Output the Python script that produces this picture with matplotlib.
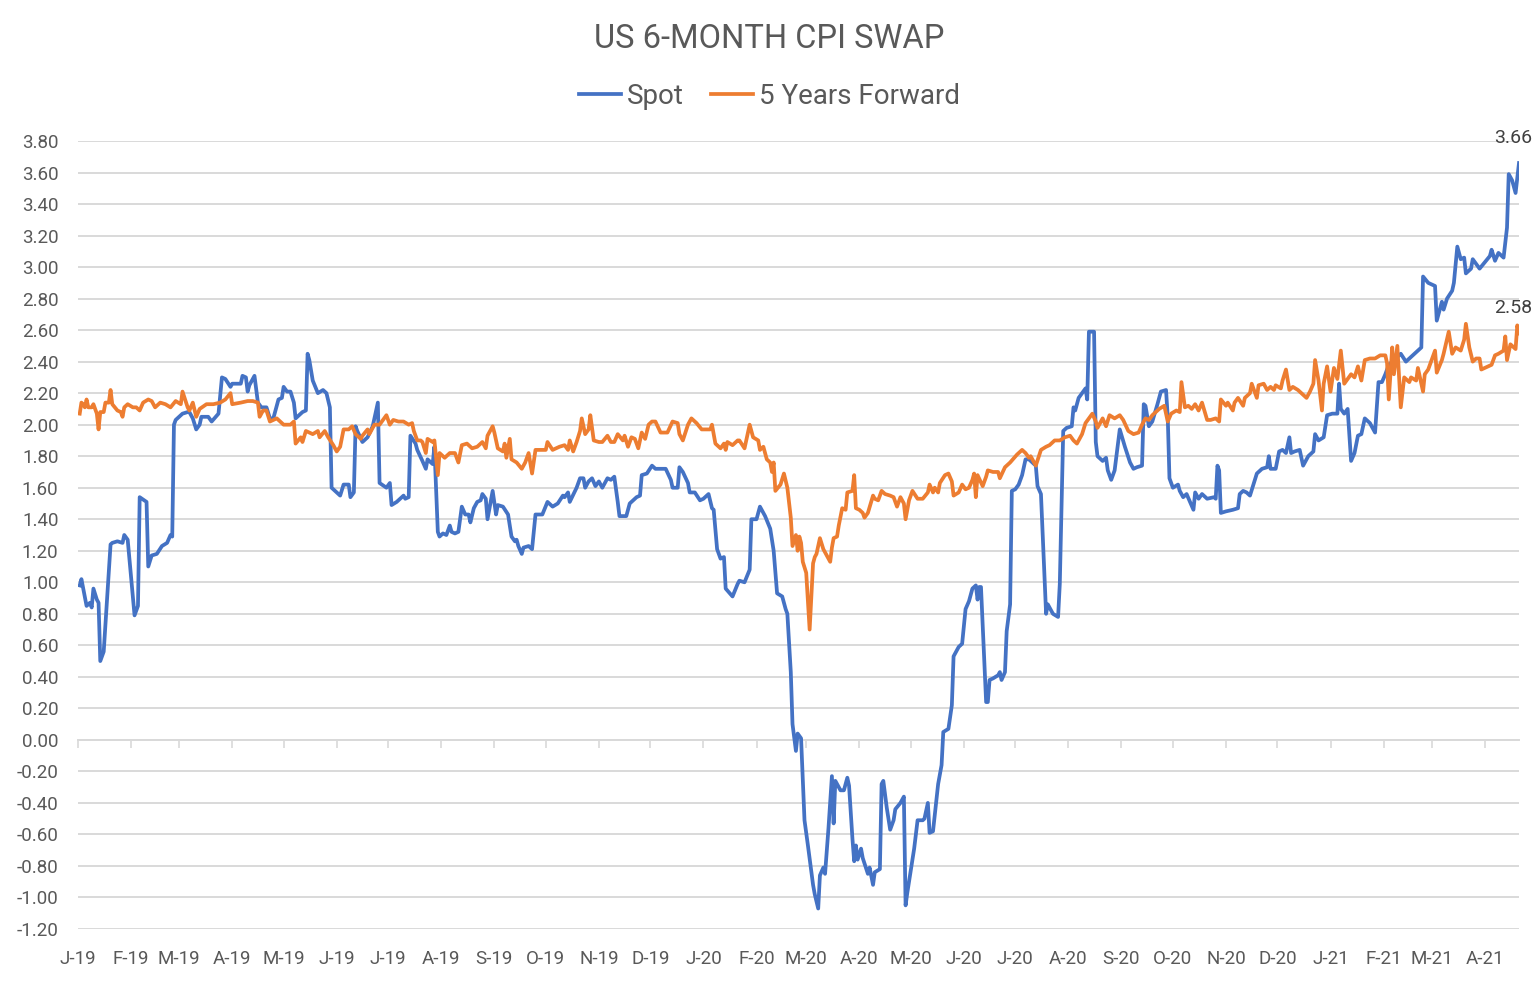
import numpy as np
import pandas as pd
import matplotlib
matplotlib.use("Agg")
import matplotlib.pyplot as plt
import matplotlib.dates as mdates
from matplotlib.ticker import FuncFormatter, NullFormatter

# values, x = days since 2019-01-01
start = pd.Timestamp("2019-01-01")

spot_day = [
    1, 2, 5, 7, 8, 9, 11, 12, 13, 15,
    19, 20, 23, 26, 27, 29, 33, 35, 36, 40,
    41, 43, 46, 49, 52, 54, 55, 56, 57, 58,
    61, 64, 65, 67, 69, 71, 72, 76, 78, 82,
    84, 86, 89, 90, 95, 96, 98, 99, 100, 103,
    105, 107, 110, 112, 114, 117, 119, 120, 122, 124,
    126, 127, 131, 133, 134, 135, 137, 140, 143, 145,
    147, 148, 151, 153, 155, 158, 159, 161, 162, 163,
    166, 169, 172, 175, 176, 180, 182, 183, 186, 189,
    190, 191, 193, 194, 197, 198, 201, 203, 204, 207,
    208, 210, 211, 213, 215, 217, 218, 220, 222, 224,
    226, 228, 229, 231, 233, 235, 236, 238, 239, 242,
    244, 245, 248, 251, 253, 255, 256, 257, 259, 260,
    263, 265, 267, 271, 274, 277, 280, 283, 284, 286,
    287, 291, 293, 295, 296, 298, 300, 302, 304, 306,
    309, 311, 313, 315, 316, 320, 322, 326, 328, 329,
    332, 335, 337, 340, 343, 346, 347, 350, 351, 353,
    356, 357, 360, 363, 365, 368, 370, 371, 373, 375,
    377, 378, 382, 385, 386, 389, 392, 393, 396, 398,
    401, 404, 406, 408, 411, 413, 414, 416, 417, 419,
    420, 422, 424, 426, 429, 430, 432, 433, 435, 436,
    438, 440, 441, 442, 445, 447, 449, 450, 452, 453,
    454, 455, 457, 458, 461, 462, 464, 465, 468, 469,
    470, 472, 474, 476, 477, 480, 482, 483, 484, 488,
    490, 493, 494, 496, 497, 499, 501, 502, 504, 505,
    508, 510, 511, 512, 514, 516, 518, 520, 522, 524,
    525, 526, 527, 530, 531, 532, 534, 537, 538, 539,
    541, 542, 544, 545, 547, 549, 551, 553, 555, 557,
    559, 560, 562, 565, 566, 569, 572, 573, 575, 577,
    580, 581, 582, 584, 588, 589, 590, 593, 594, 595,
    598, 600, 601, 603, 605, 608, 611, 614, 616, 618,
    621, 622, 623, 625, 627, 630, 632, 635, 636, 637,
    639, 642, 643, 645, 647, 649, 651, 652, 654, 656,
    659, 663, 664, 665, 666, 667, 670, 674, 677, 678,
    680, 682, 684, 688, 691, 694, 695, 696, 699, 701,
    703, 705, 707, 708, 710, 713, 715, 718, 721, 722,
    724, 727, 729, 732, 735, 736, 737, 739, 741, 743,
    745, 747, 749, 751, 754, 757, 759, 761, 763, 765,
    768, 770, 772, 775, 778, 781, 784, 785, 788, 792,
    793, 796, 797, 799, 802, 803, 805, 807, 809, 810,
    813, 814, 818, 821, 824, 825, 827, 829, 832, 834,
    835, 837, 839, 841,
]
spot = [
    0.98, 1.02, 0.85, 0.87, 0.84, 0.96, 0.89, 0.87, 0.50, 0.56,
    1.24, 1.25, 1.26, 1.25, 1.30, 1.27, 0.79, 0.85, 1.54, 1.51,
    1.10, 1.17, 1.18, 1.23, 1.25, 1.30, 1.29, 2.00, 2.03, 2.04,
    2.07, 2.08, 2.08, 2.04, 1.97, 2.00, 2.05, 2.05, 2.02, 2.07,
    2.30, 2.29, 2.24, 2.26, 2.26, 2.31, 2.30, 2.21, 2.25, 2.31,
    2.14, 2.11, 2.11, 2.04, 2.04, 2.16, 2.17, 2.24, 2.21, 2.21,
    2.14, 2.04, 2.08, 2.09, 2.45, 2.41, 2.28, 2.20, 2.22, 2.20,
    2.11, 1.60, 1.57, 1.55, 1.62, 1.62, 1.54, 1.57, 1.99, 1.96,
    1.89, 1.92, 1.99, 2.14, 1.63, 1.60, 1.63, 1.49, 1.51, 1.54,
    1.55, 1.53, 1.54, 1.93, 1.88, 1.84, 1.77, 1.72, 1.78, 1.75,
    1.86, 1.32, 1.29, 1.31, 1.30, 1.36, 1.32, 1.31, 1.32, 1.48,
    1.43, 1.43, 1.38, 1.47, 1.51, 1.52, 1.56, 1.53, 1.40, 1.58,
    1.43, 1.49, 1.48, 1.43, 1.29, 1.26, 1.27, 1.23, 1.18, 1.22,
    1.23, 1.21, 1.43, 1.43, 1.51, 1.48, 1.50, 1.55, 1.54, 1.57,
    1.51, 1.60, 1.66, 1.66, 1.60, 1.64, 1.66, 1.61, 1.64, 1.60,
    1.66, 1.65, 1.67, 1.51, 1.42, 1.42, 1.50, 1.54, 1.55, 1.68,
    1.69, 1.74, 1.72, 1.72, 1.72, 1.65, 1.60, 1.60, 1.73, 1.70,
    1.63, 1.57, 1.57, 1.52, 1.53, 1.56, 1.47, 1.46, 1.21, 1.15,
    1.16, 0.96, 0.91, 0.99, 1.01, 1.00, 1.08, 1.40, 1.40, 1.48,
    1.42, 1.34, 1.20, 0.93, 0.91, 0.83, 0.80, 0.43, 0.10, -0.07,
    0.04, 0.01, -0.51, -0.67, -0.92, -0.98, -1.07, -0.86, -0.81, -0.85,
    -0.56, -0.23, -0.53, -0.26, -0.32, -0.32, -0.24, -0.29, -0.63, -0.77,
    -0.67, -0.76, -0.69, -0.75, -0.85, -0.81, -0.92, -0.84, -0.82, -0.28,
    -0.26, -0.43, -0.57, -0.51, -0.44, -0.40, -0.36, -1.05, -0.97, -0.69,
    -0.51, -0.51, -0.50, -0.40, -0.59, -0.58, -0.38, -0.28, -0.16, 0.05,
    0.07, 0.22, 0.53, 0.55, 0.59, 0.61, 0.83, 0.88, 0.96, 0.98,
    0.89, 0.97, 0.97, 0.24, 0.24, 0.38, 0.39, 0.41, 0.43, 0.38,
    0.43, 0.69, 0.86, 1.58, 1.59, 1.62, 1.68, 1.78, 1.78, 1.76,
    1.74, 1.61, 1.56, 0.80, 0.86, 0.80, 0.78, 0.99, 1.96, 1.98,
    1.99, 2.11, 2.09, 2.17, 2.23, 2.16, 2.59, 2.59, 1.89, 1.80,
    1.77, 1.79, 1.71, 1.65, 1.71, 1.97, 1.86, 1.76, 1.72, 1.73,
    1.74, 2.13, 2.12, 1.99, 2.02, 2.13, 2.21, 2.22, 2.05, 1.66,
    1.60, 1.62, 1.58, 1.54, 1.56, 1.51, 1.46, 1.57, 1.53, 1.56,
    1.53, 1.54, 1.53, 1.74, 1.71, 1.44, 1.45, 1.46, 1.47, 1.56,
    1.58, 1.57, 1.55, 1.69, 1.72, 1.73, 1.80, 1.72, 1.72, 1.83,
    1.84, 1.82, 1.92, 1.82, 1.83, 1.84, 1.74, 1.80, 1.83, 1.94,
    1.90, 1.92, 2.06, 2.07, 2.07, 2.26, 2.10, 2.07, 2.10, 1.77,
    1.82, 1.93, 1.94, 2.04, 2.01, 1.95, 2.27, 2.27, 2.32, 2.38,
    2.41, 2.43, 2.45, 2.40, 2.43, 2.46, 2.49, 2.94, 2.90, 2.88,
    2.66, 2.78, 2.73, 2.80, 2.85, 2.90, 3.13, 3.05, 3.06, 2.96,
    2.99, 3.05, 2.99, 3.03, 3.07, 3.11, 3.04, 3.09, 3.06, 3.25,
    3.59, 3.55, 3.47, 3.66,
]

fwd_day = [
    1, 2, 3, 4, 5, 6, 8, 9, 11, 12,
    13, 15, 16, 18, 19, 20, 23, 25, 26, 27,
    29, 32, 34, 36, 38, 41, 43, 45, 48, 51,
    54, 57, 60, 61, 64, 65, 67, 69, 71, 75,
    79, 83, 86, 89, 90, 95, 99, 102, 105, 106,
    108, 110, 112, 116, 118, 120, 124, 126, 127, 130,
    131, 133, 137, 140, 141, 144, 146, 149, 151, 153,
    155, 158, 160, 162, 165, 166, 169, 170, 173, 176,
    178, 180, 182, 184, 187, 190, 193, 195, 196, 198,
    200, 201, 203, 204, 207, 208, 210, 211, 214, 217,
    220, 222, 224, 227, 230, 233, 236, 238, 239, 242,
    243, 245, 248, 249, 250, 252, 253, 256, 259, 261,
    263, 265, 267, 270, 273, 274, 277, 281, 284, 286,
    287, 289, 291, 293, 294, 296, 298, 299, 301, 304,
    306, 309, 311, 313, 315, 318, 319, 321, 323, 325,
    327, 329, 331, 333, 335, 337, 340, 344, 347, 350,
    351, 353, 356, 358, 361, 364, 366, 369, 370, 372,
    375, 377, 378, 379, 382, 385, 386, 389, 392, 394,
    397, 398, 400, 402, 404, 405, 406, 407, 410, 412,
    414, 416, 417, 419, 420, 421, 422, 423, 425, 426,
    427, 429, 430, 431, 433, 435, 437, 439, 440, 441,
    443, 444, 446, 448, 449, 452, 453, 454, 456, 458,
    459, 461, 464, 465, 467, 469, 471, 474, 476, 478,
    480, 482, 483, 485, 487, 490, 493, 496, 497, 499,
    500, 502, 503, 506, 508, 510, 511, 514, 516, 518,
    520, 522, 523, 524, 525, 528, 530, 531, 534, 537,
    538, 541, 544, 548, 551, 553, 555, 556, 559, 562,
    565, 567, 570, 573, 576, 579, 581, 583, 586, 588,
    592, 594, 595, 598, 600, 602, 605, 608, 610, 613,
    616, 619, 621, 623, 625, 627, 629, 631, 634, 636,
    638, 641, 643, 644, 646, 648, 650, 652, 654, 656,
    659, 661, 664, 666, 667, 670, 671, 674, 675, 677,
    680, 681, 684, 685, 688, 689, 692, 694, 696, 698,
    699, 702, 703, 705, 707, 709, 712, 715, 717, 719,
    721, 722, 724, 726, 727, 729, 731, 733, 735, 737,
    739, 741, 743, 745, 747, 749, 751, 754, 757, 760,
    763, 764, 765, 767, 768, 770, 772, 774, 777, 778,
    781, 782, 785, 786, 788, 792, 793, 796, 797, 800,
    802, 804, 807, 809, 810, 812, 814, 816, 818, 819,
    821, 825, 827, 829, 832, 833, 834, 836, 839, 840,
    841,
]
fwd = [
    2.07, 2.14, 2.13, 2.11, 2.16, 2.11, 2.11, 2.13, 2.07, 1.97,
    2.08, 2.08, 2.14, 2.14, 2.22, 2.13, 2.09, 2.08, 2.05, 2.11,
    2.13, 2.11, 2.11, 2.09, 2.14, 2.16, 2.15, 2.11, 2.14, 2.13,
    2.11, 2.15, 2.13, 2.21, 2.11, 2.09, 2.14, 2.05, 2.10, 2.13,
    2.13, 2.14, 2.16, 2.20, 2.13, 2.14, 2.15, 2.15, 2.14, 2.05,
    2.09, 2.09, 2.02, 2.04, 2.02, 2.00, 2.00, 2.02, 1.88, 1.92,
    1.89, 1.96, 1.94, 1.96, 1.92, 1.96, 1.92, 1.87, 1.83, 1.86,
    1.97, 1.97, 1.99, 1.94, 1.91, 1.93, 1.97, 1.94, 2.00, 2.00,
    2.03, 2.06, 2.00, 2.03, 2.02, 2.02, 2.00, 2.01, 1.96, 1.90,
    1.90, 1.89, 1.82, 1.91, 1.89, 1.90, 1.68, 1.82, 1.79, 1.82,
    1.82, 1.76, 1.87, 1.88, 1.85, 1.86, 1.89, 1.85, 1.93, 1.99,
    1.95, 1.85, 1.83, 1.88, 1.79, 1.91, 1.78, 1.76, 1.72, 1.76,
    1.82, 1.69, 1.84, 1.84, 1.84, 1.89, 1.84, 1.86, 1.87, 1.84,
    1.90, 1.83, 1.89, 1.96, 2.04, 1.94, 1.97, 2.06, 1.90, 1.89,
    1.89, 1.93, 1.89, 1.89, 1.94, 1.90, 1.93, 1.86, 1.92, 1.91,
    1.85, 1.95, 1.91, 2.00, 2.02, 2.02, 1.95, 1.95, 2.02, 2.01,
    1.94, 1.90, 2.00, 2.04, 2.01, 1.97, 1.97, 1.97, 2.00, 1.88,
    1.85, 1.88, 1.84, 1.89, 1.87, 1.90, 1.90, 1.85, 2.00, 1.92,
    1.90, 1.84, 1.86, 1.78, 1.76, 1.70, 1.76, 1.58, 1.62, 1.69,
    1.60, 1.41, 1.23, 1.30, 1.20, 1.29, 1.25, 1.13, 1.06, 0.88,
    0.70, 1.12, 1.16, 1.18, 1.28, 1.21, 1.17, 1.13, 1.22, 1.28,
    1.29, 1.36, 1.47, 1.46, 1.57, 1.58, 1.68, 1.47, 1.46, 1.44,
    1.41, 1.44, 1.55, 1.53, 1.52, 1.58, 1.56, 1.55, 1.54, 1.48,
    1.54, 1.50, 1.40, 1.52, 1.58, 1.53, 1.53, 1.57, 1.62, 1.57,
    1.60, 1.57, 1.63, 1.68, 1.69, 1.64, 1.55, 1.57, 1.62, 1.59,
    1.60, 1.65, 1.69, 1.54, 1.68, 1.61, 1.67, 1.71, 1.70, 1.70,
    1.66, 1.73, 1.76, 1.81, 1.84, 1.82, 1.79, 1.80, 1.74, 1.84,
    1.86, 1.87, 1.90, 1.90, 1.92, 1.93, 1.90, 1.88, 1.94, 2.01,
    2.07, 2.02, 1.98, 2.04, 1.99, 2.06, 2.04, 2.06, 2.03, 1.96,
    1.94, 1.95, 2.00, 2.04, 2.03, 2.06, 2.08, 2.10, 2.12, 2.02,
    2.07, 2.09, 2.08, 2.27, 2.11, 2.12, 2.10, 2.13, 2.09, 2.14,
    2.03, 2.03, 2.04, 2.02, 2.16, 2.12, 2.14, 2.09, 2.14, 2.17,
    2.12, 2.17, 2.20, 2.26, 2.17, 2.25, 2.26, 2.22, 2.24, 2.22,
    2.25, 2.23, 2.28, 2.35, 2.22, 2.24, 2.22, 2.19, 2.17, 2.21,
    2.26, 2.41, 2.28, 2.09, 2.26, 2.37, 2.21, 2.36, 2.29, 2.47,
    2.26, 2.29, 2.32, 2.30, 2.37, 2.28, 2.41, 2.42, 2.42, 2.44,
    2.44, 2.39, 2.16, 2.49, 2.32, 2.50, 2.11, 2.30, 2.27, 2.30,
    2.28, 2.36, 2.21, 2.32, 2.35, 2.47, 2.33, 2.41, 2.45, 2.59,
    2.45, 2.49, 2.47, 2.54, 2.64, 2.49, 2.40, 2.42, 2.42, 2.35,
    2.36, 2.38, 2.44, 2.45, 2.47, 2.56, 2.41, 2.51, 2.48, 2.63,
    2.58,
]

spot_dates = start + pd.to_timedelta(spot_day, unit="D")
fwd_dates = start + pd.to_timedelta(fwd_day, unit="D")
months = pd.date_range("2019-01-01", "2021-04-01", freq="MS")

BLUE = "#4472C4"
ORANGE = "#ED7D31"
GREY = "#595959"
GRID = "#D9D9D9"

plt.rcParams["font.family"] = ["Roboto", "DejaVu Sans"]

fig = plt.figure(figsize=(15.39, 9.81), dpi=100)
W, H = 1539, 981
ax = fig.add_axes([78 / W, 1 - 929 / H, (1519 - 78) / W, (929 - 141) / H])

ax.plot(spot_dates, spot, color=BLUE, lw=2.7, label="Spot", zorder=3)
ax.plot(fwd_dates, fwd, color=ORANGE, lw=2.7, label="5 Years Forward", zorder=3)

ymin, ymax = -1.2, 3.8
ax.set_ylim(ymin, ymax)
ax.set_xlim(start, spot_dates[-1])
ax.set_yticks(np.arange(-1.2, 3.81, 0.2))
ax.yaxis.set_major_formatter(FuncFormatter(lambda v, p: f"{round(v, 2) + 0.0:.2f}"))
ax.grid(axis="y", color=GRID, lw=1.4, zorder=0)
ax.set_axisbelow(True)
for s in ax.spines.values():
    s.set_visible(False)

ax.set_xticks(months)
ax.xaxis.set_major_formatter(FuncFormatter(
    lambda v, p: mdates.num2date(v).strftime("%b")[0] + "-" + mdates.num2date(v).strftime("%y")))
ax.tick_params(axis="x", length=0, pad=15, labelsize=13.5, labelcolor=GREY)
ax.tick_params(axis="y", length=0, pad=14, labelsize=13.5, labelcolor=GREY)

# horizontal axis line sits at zero with month tick marks
zero_axis = ax.secondary_xaxis((0 - ymin) / (ymax - ymin))
zero_axis.set_xticks(months)
zero_axis.xaxis.set_major_formatter(NullFormatter())
zero_axis.tick_params(direction="out", length=6, width=1.2, color=GRID)
zero_axis.spines["bottom"].set_color(GRID)
zero_axis.spines["bottom"].set_linewidth(1.4)

for d, v in ((spot_dates[-1], spot[-1]), (fwd_dates[-1], fwd[-1])):
    ax.annotate(f"{v:.2f}", xy=(d, v), xytext=(-4, 18), textcoords="offset points",
                ha="center", va="center", fontsize=14, color="#404040")

fig.text(0.5, 1 - 39 / H, "US 6-MONTH CPI SWAP", ha="center", va="center",
         fontsize=23.5, color=GREY)
fig.legend(loc="center", bbox_to_anchor=(0.5, 1 - 96 / H), ncol=2, frameon=False,
           fontsize=20, handlelength=1.5, handletextpad=0.2, columnspacing=1.0,
           labelcolor=GREY)

fig.savefig("out.png", dpi=100)
